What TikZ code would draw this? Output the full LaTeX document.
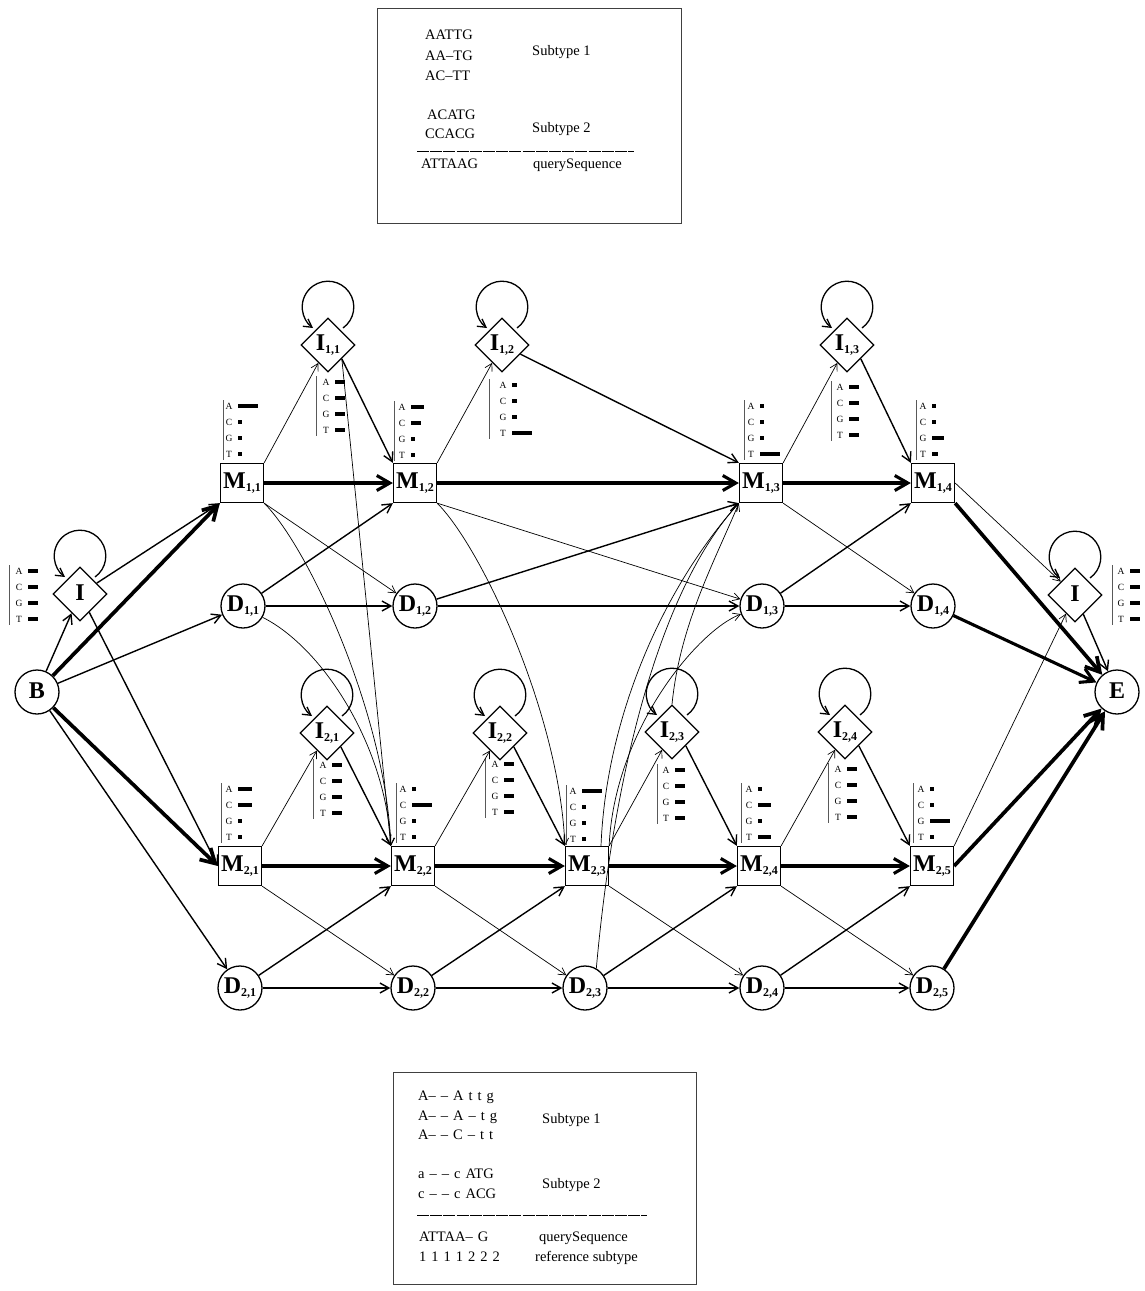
\documentclass[tikz,border=0pt]{standalone}
\usepackage{fontspec}
\setmainfont{Liberation Serif}
\usetikzlibrary{shapes.geometric,arrows.meta}

\newcommand\nlab[2]{{\fontsize{24}{24}\selectfont\bfseries #1}{\raisebox{-3pt}{\fontsize{12}{12}\selectfont\bfseries #2}}}
\newcommand\iloop[1]{\draw[eloop] ([shift={(15,-17)}]#1.center) arc[start angle=54.46, end angle=-234.46, radius=25.8];}
\newcommand\gp{\hspace{5pt}}

\tikzset{
 mbox/.style={draw, line width=1.3pt, rectangle, minimum width=43pt, minimum height=39pt, inner sep=1pt},
 dcirc/.style={draw, line width=1.3pt, circle, minimum size=44pt, inner sep=0pt},
 idia/.style={draw, line width=1.3pt, diamond, minimum width=54pt, minimum height=54pt, inner sep=0pt},
 ethin/.style={line width=0.7pt, -{Straight Barb[length=7pt,width=8pt]}},
 enorm/.style={line width=1.4pt, -{Straight Barb[length=9pt,width=10pt]}},
 ethick/.style={line width=3.1pt, -{Straight Barb[length=13pt,width=15pt]}},
 evthick/.style={line width=3.7pt, -{Straight Barb[length=14pt,width=16pt]}},
 eloop/.style={line width=1.3pt, -{Straight Barb[length=8pt,width=9pt]}},
 emlet/.style={font=\fontsize{9.5}{9.5}\selectfont, inner sep=0pt},
 boxtxt/.style={font=\fontsize{14.5}{14.5}\selectfont, anchor=base west, inner sep=0pt},
 frame/.style={draw=black!75, line width=1pt},
 sepline/.style={line width=1pt, dash pattern=on 12pt off 1.2pt},
 pics/emis/.style n args={5}{code={
   \draw[black!65, line width=0.8pt] (0,0) -- (0,60);
   \node[emlet] (-a) at (#1-9,6) {A};
   \node[emlet] (-c) at (#1-9,22) {C};
   \node[emlet] (-g) at (#1-9,38) {G};
   \node[emlet] (-t) at (#1-9,54) {T};
   \fill (#1,4) rectangle ++(#2,4);
   \fill (#1,20) rectangle ++(#3,4);
   \fill (#1,36) rectangle ++(#4,4);
   \fill (#1,52) rectangle ++(#5,4);
 }},
}

\begin{document}
\begin{tikzpicture}[x=1pt,y=-1pt]
\useasboundingbox (0,0) rectangle (1144,1291);

% ---------- top box ----------
\draw[frame] (377,8) rectangle (681,223);
\node[boxtxt] (t1) at (425,39) {AATTG};
\node[boxtxt] (t2) at (425,60) {AA–TG};
\node[boxtxt] (t3) at (425,80) {AC–TT};
\node[boxtxt] (t4) at (532,55) {Subtype 1};
\node[boxtxt] (t5) at (427,119) {ACATG};
\node[boxtxt] (t6) at (425,138) {CCACG};
\node[boxtxt] (t7) at (532,132) {Subtype 2};
\draw[sepline] (417,151) -- (634,151);
\node[boxtxt] (t8) at (421,168) {ATTAAG};
\node[boxtxt] (t9) at (533,168) {querySequence};

% ---------- bottom box ----------
\draw[frame] (393,1072) rectangle (696,1284);
\node[boxtxt] (b1) at (418,1100) {A–\gp–\gp A\gp t\gp t\gp g};
\node[boxtxt] (b2) at (418,1120) {A–\gp–\gp A\gp –\gp t\gp g};
\node[boxtxt] (b3) at (418,1139) {A–\gp–\gp C\gp –\gp t\gp t};
\node[boxtxt] (b4) at (542,1123) {Subtype 1};
\node[boxtxt] (b5) at (418,1178) {a\gp –\gp –\gp c\gp ATG};
\node[boxtxt] (b6) at (418,1198) {c\gp –\gp –\gp c\gp ACG};
\node[boxtxt] (b7) at (542,1188) {Subtype 2};
\draw[sepline] (417,1215) -- (647,1215);
\node[boxtxt] (b8) at (419,1241) {ATTAA–\gp G};
\node[boxtxt] (b9) at (539,1241) {querySequence};
\node[boxtxt] (b10) at (419,1261) {1\gp 1\gp 1\gp 1\gp 2\gp 2\gp 2};
\node[boxtxt] (b11) at (535,1261) {reference subtype};

% ---------- nodes ----------
\node[dcirc] (B) at (37,692) {\nlab{B}{}};
\node[idia] (Ib) at (80,594) {\nlab{I}{}};
\node[dcirc] (E) at (1117,692) {\nlab{E}{}};
\node[idia] (Ie) at (1075,595) {\nlab{I}{}};

\node[mbox] (M11) at (242,483) {\nlab{M}{1,1}};
\node[mbox] (M12) at (415,483) {\nlab{M}{1,2}};
\node[mbox] (M13) at (761,483) {\nlab{M}{1,3}};
\node[mbox] (M14) at (933,483) {\nlab{M}{1,4}};
\node[dcirc] (D11) at (243,606) {\nlab{D}{1,1}};
\node[dcirc] (D12) at (415,606) {\nlab{D}{1,2}};
\node[dcirc] (D13) at (762,606) {\nlab{D}{1,3}};
\node[dcirc] (D14) at (933,606) {\nlab{D}{1,4}};
\node[idia] (I11) at (328,345) {\nlab{I}{1,1}};
\node[idia] (I12) at (502,345) {\nlab{I}{1,2}};
\node[idia] (I13) at (847,345) {\nlab{I}{1,3}};

\node[mbox] (M21) at (240,866) {\nlab{M}{2,1}};
\node[mbox] (M22) at (413,866) {\nlab{M}{2,2}};
\node[mbox] (M23) at (587,866) {\nlab{M}{2,3}};
\node[mbox] (M24) at (759,866) {\nlab{M}{2,4}};
\node[mbox] (M25) at (932,866) {\nlab{M}{2,5}};
\node[dcirc] (D21) at (240,988) {\nlab{D}{2,1}};
\node[dcirc] (D22) at (413,988) {\nlab{D}{2,2}};
\node[dcirc] (D23) at (585,988) {\nlab{D}{2,3}};
\node[dcirc] (D24) at (762,988) {\nlab{D}{2,4}};
\node[dcirc] (D25) at (932,988) {\nlab{D}{2,5}};
\node[idia] (I21) at (327,733) {\nlab{I}{2,1}};
\node[idia] (I22) at (500,733) {\nlab{I}{2,2}};
\node[idia] (I23) at (672,732) {\nlab{I}{2,3}};
\node[idia] (I24) at (845,732) {\nlab{I}{2,4}};

% ---------- emission tables ----------
\pic (eIb) at (9,565) {emis={19}{10}{10}{10}{10}};
\pic (eM11) at (223,400) {emis={15}{20}{4}{4}{4}};
\pic (eI11) at (316,376) {emis={19}{10}{10}{10}{10}};
\pic (eM12) at (394,401) {emis={17}{13}{10}{4}{4}};
\pic (eI12) at (489,379) {emis={23}{5}{5}{5}{20}};
\pic (eM13) at (744,400) {emis={16}{4}{4}{4}{20}};
\pic (eI13) at (831,381) {emis={18}{10}{10}{10}{10}};
\pic (eM14) at (916,400) {emis={16}{4}{4}{12}{6}};
\pic (eM21) at (221,783) {emis={17}{14}{14}{4}{4}};
\pic (eI21) at (313,759) {emis={19}{10}{10}{10}{10}};
\pic (eM22) at (396,783) {emis={16}{4}{20}{4}{4}};
\pic (eI22) at (485,758) {emis={19}{10}{10}{10}{10}};
\pic (eM23) at (566,785) {emis={16}{20}{4}{4}{4}};
\pic (eI23) at (657,764) {emis={18}{10}{10}{10}{10}};
\pic (eM24) at (741,783) {emis={17}{4}{13}{4}{13}};
\pic (eI24) at (828,763) {emis={19}{10}{10}{10}{10}};
\pic (eM25) at (913,783) {emis={17}{4}{4}{20}{4}};
\pic (eIe) at (1112,565) {emis={18}{10}{10}{10}{10}};

% ---------- loops ----------
\iloop{Ib}
\iloop{I11}
\iloop{I12}
\iloop{I13}
\iloop{I21}
\iloop{I22}
\iloop{I23}
\iloop{I24}
\iloop{Ie}

% ---------- begin ----------
\draw[enorm] (B) -- (Ib);
\draw[evthick] (B) -- (M11.south west);
\draw[enorm] (B) -- (D11);
\draw[evthick] (B) -- (M21.west);
\draw[enorm] (B) -- (D21);
\draw[enorm] (Ib) -- (M11.south west);
\draw[enorm] (Ib) -- (M21.west);

% ---------- subtype 1 ----------
\draw[ethick] (M11.east) -- (M12.west);
\draw[ethick] (M12.east) -- (M13.west);
\draw[ethick] (M13.east) -- (M14.west);
\draw[ethin] (M11.north east) -- (I11);
\draw[ethin] (M12.north east) -- (I12);
\draw[ethin] (M13.north east) -- (I13);
\draw[ethin] (M11.south east) -- (D12);
\draw[ethin] (M12.south east) -- (D13);
\draw[ethin] (M13.south east) -- (D14);
\draw[enorm] (I11.south east) -- (M12.north west);
\draw[enorm] (I12) -- (M13.north west);
\draw[enorm] (I13.south east) -- (M14.north west);
\draw[enorm] (D11) -- (M12.south west);
\draw[enorm] (D12) -- (M13.south west);
\draw[enorm] (D13) -- (M14.south west);
\draw[enorm] (D11) -- (D12);
\draw[enorm] (D12) -- (D13);
\draw[enorm] (D13) -- (D14);

% ---------- subtype 2 ----------
\draw[ethick] (M21.east) -- (M22.west);
\draw[ethick] (M22.east) -- (M23.west);
\draw[ethick] (M23.east) -- (M24.west);
\draw[ethick] (M24.east) -- (M25.west);
\draw[ethin] (M21.north east) -- (I21);
\draw[ethin] (M22.north east) -- (I22);
\draw[ethin] (M23.north east) -- (I23);
\draw[ethin] (M24.north east) -- (I24);
\draw[ethin] (M21.south east) -- (D22);
\draw[ethin] (M22.south east) -- (D23);
\draw[ethin] (M23.south east) -- (D24);
\draw[ethin] (M24.south east) -- (D25);
\draw[enorm] (I21.south east) -- (M22.north west);
\draw[enorm] (I22.south east) -- (M23.north west);
\draw[enorm] (I23.south east) -- (M24.north west);
\draw[enorm] (I24.south east) -- (M25.north west);
\draw[enorm] (D21) -- (M22.south west);
\draw[enorm] (D22) -- (M23.south west);
\draw[enorm] (D23) -- (M24.south west);
\draw[enorm] (D24) -- (M25.south west);
\draw[enorm] (D21) -- (D22);
\draw[enorm] (D22) -- (D23);
\draw[enorm] (D23) -- (D24);
\draw[enorm] (D24) -- (D25);

% ---------- jumps between subtypes ----------
\draw[ethin] (M11.south east) .. controls +(45,45) and +(-5,-130) .. (M22.north west);
\draw[ethin] (D11.-30) .. controls +(60,30) and +(-5,-100) .. (M22.north west);
\draw[ethin] (I11.south east) -- (M22.north west);
\draw[ethin] (M12.south east) .. controls +(45,45) and +(-5,-130) .. (M23.north west);
\draw[ethin] ([xshift=14pt]M23.north) .. controls +(5,-127) and +(-77,86) .. (M13.south west);
\draw[ethin] (M23.north east) .. controls +(5,-115) and +(-65,25) .. (D13);
\draw[ethin] (D23.60) .. controls +(15,-168) and +(-87,95) .. (M13.south west);
\draw[ethin] (I23.north) .. controls +(8,-80) and +(-25,60) .. (M13.south west);

% ---------- end ----------
\draw[evthick] (M14.south east) -- (E);
\draw[ethin] (M14.east) -- (Ie);
\draw[ethick] (D14) -- (E);
\draw[enorm] (Ie) -- (E);
\draw[ethin] (M25.north east) -- (Ie);
\draw[evthick] (M25.east) -- (E);
\draw[evthick] (D25) -- (E);
\end{tikzpicture}
\end{document}
